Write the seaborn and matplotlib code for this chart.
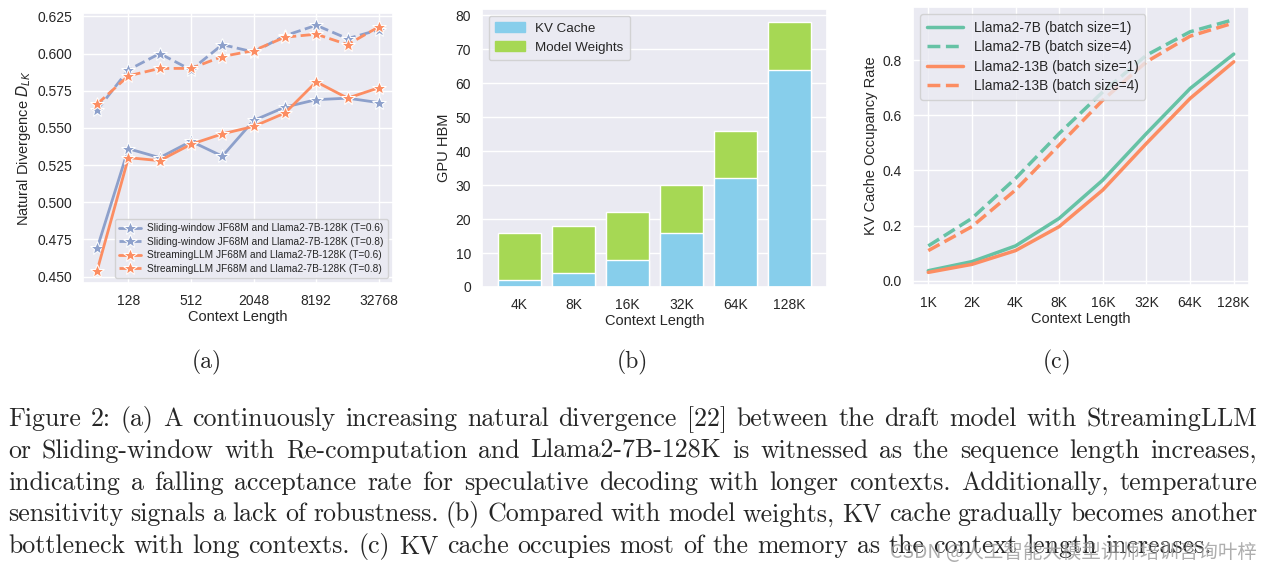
import matplotlib
matplotlib.use("Agg")
import matplotlib.pyplot as plt
import matplotlib.ticker as mticker
from matplotlib.patches import Patch
import pandas as pd
import seaborn as sns

# (a) natural divergence vs context length
ctx_a = [64, 128, 256, 512, 1024, 2048, 4096, 8192, 16384, 32768]
sliding_t06 = [0.469, 0.536, 0.530, 0.541, 0.531, 0.555, 0.564, 0.569, 0.570, 0.567]
sliding_t08 = [0.562, 0.589, 0.600, 0.589, 0.606, 0.601, 0.612, 0.619, 0.610, 0.616]
streaming_t06 = [0.454, 0.530, 0.528, 0.539, 0.546, 0.551, 0.560, 0.581, 0.570, 0.577]
streaming_t08 = [0.566, 0.585, 0.590, 0.590, 0.598, 0.602, 0.611, 0.613, 0.606, 0.618]

# (b) GPU HBM usage
ctx_b = ["4K", "8K", "16K", "32K", "64K", "128K"]
kv_cache = [2, 4, 8, 16, 32, 64]
model_weights = [14, 14, 14, 14, 14, 14]

# (c) KV cache occupancy
ctx_c = [1024, 2048, 4096, 8192, 16384, 32768, 65536, 131072]
ctx_c_labels = ["1K", "2K", "4K", "8K", "16K", "32K", "64K", "128K"]
occ_7b_bs1 = [0.036, 0.069, 0.126, 0.226, 0.365, 0.534, 0.697, 0.822]
occ_7b_bs4 = [0.126, 0.226, 0.371, 0.534, 0.685, 0.818, 0.903, 0.947]
occ_13b_bs1 = [0.030, 0.059, 0.109, 0.196, 0.329, 0.498, 0.661, 0.794]
occ_13b_bs4 = [0.109, 0.196, 0.329, 0.492, 0.655, 0.794, 0.887, 0.935]

caption_lines = [
    "Figure 2: (a) A continuously increasing natural divergence [22] between the draft model with StreamingLLM",
    "or Sliding-window with Re-computation and Llama2-7B-128K is witnessed as the sequence length increases,",
    "indicating a falling acceptance rate for speculative decoding with longer contexts. Additionally, temperature",
    "sensitivity signals a lack of robustness. (b) Compared with model weights, KV cache gradually becomes another",
    "bottleneck with long contexts. (c) KV cache occupies most of the memory as the context length increases.",
]

BLUE = "#8da0cb"
ORANGE = "#fc8d62"
GREEN = "#66c2a5"
SKY = "#87ceeb"
LIME = "#a6d854"

sns.set_theme(style="darkgrid")
plt.rcParams["font.family"] = ["Liberation Sans", "DejaVu Sans"]

W, H, DPI = 1271, 575, 100
fig = plt.figure(figsize=(W / DPI, H / DPI), dpi=DPI)


def px_axes(left, top, right, bottom):
    return fig.add_axes([left / W, 1 - bottom / H, (right - left) / W, (bottom - top) / H])


# ---- panel (a)
ax1 = px_axes(83, 13, 393, 283)
series_a = [
    (sliding_t06, BLUE, "-", "Sliding-window JF68M and Llama2-7B-128K (T=0.6)"),
    (sliding_t08, BLUE, "--", "Sliding-window JF68M and Llama2-7B-128K (T=0.8)"),
    (streaming_t06, ORANGE, "-", "StreamingLLM JF68M and Llama2-7B-128K (T=0.6)"),
    (streaming_t08, ORANGE, "--", "StreamingLLM JF68M and Llama2-7B-128K (T=0.8)"),
]
for vals, col, ls, lab in series_a:
    sns.lineplot(x=ctx_a, y=vals, ax=ax1, color=col, linestyle=ls, lw=2,
                 marker="*", markersize=10, label=lab)
ax1.set_xscale("log", base=2)
ax1.set_xticks([128, 512, 2048, 8192, 32768])
ax1.set_xticklabels(["128", "512", "2048", "8192", "32768"])
ax1.xaxis.set_minor_locator(mticker.NullLocator())
ax1.set_yticks([0.450, 0.475, 0.500, 0.525, 0.550, 0.575, 0.600, 0.625])
ax1.yaxis.set_major_formatter(mticker.FormatStrFormatter("%.3f"))
ax1.tick_params(labelsize=10, pad=2)
ax1.set_xlabel("Context Length", fontsize=10.5, labelpad=1)
ax1.set_ylabel("Natural Divergence $D_{LK}$", fontsize=10.5, labelpad=3)
ax1.legend(loc="lower right", fontsize=7.3, handlelength=2.2, borderpad=0.4,
           labelspacing=0.35, handletextpad=0.6)

# ---- panel (b)
ax2 = px_axes(482, 9, 827, 287)
df_b = pd.DataFrame({"ctx": ctx_b, "kv": kv_cache, "w": model_weights})
df_b["total"] = df_b["kv"] + df_b["w"]
sns.barplot(data=df_b, x="ctx", y="total", color=LIME, saturation=1, width=0.8,
            edgecolor="white", linewidth=1, ax=ax2)
sns.barplot(data=df_b, x="ctx", y="kv", color=SKY, saturation=1, width=0.8,
            edgecolor="white", linewidth=1, ax=ax2)
ax2.set_xlim(-0.69, 5.69)
ax2.set_ylim(0, 81.9)
ax2.set_yticks(range(0, 81, 10))
ax2.tick_params(labelsize=10, pad=2)
ax2.set_xlabel("Context Length", fontsize=10.5, labelpad=1)
ax2.set_ylabel("GPU HBM", fontsize=10.5, labelpad=3)
ax2.legend(handles=[Patch(color=SKY, label="KV Cache"), Patch(color=LIME, label="Model Weights")],
           loc="upper left", fontsize=9.6, handlelength=2.2, borderpad=0.5)

# ---- panel (c)
ax3 = px_axes(913, 7, 1249, 285)
series_c = [
    (occ_7b_bs1, GREEN, "-", "Llama2-7B (batch size=1)"),
    (occ_7b_bs4, GREEN, "--", "Llama2-7B (batch size=4)"),
    (occ_13b_bs1, ORANGE, "-", "Llama2-13B (batch size=1)"),
    (occ_13b_bs4, ORANGE, "--", "Llama2-13B (batch size=4)"),
]
for vals, col, ls, lab in series_c:
    sns.lineplot(x=ctx_c, y=vals, ax=ax3, color=col, linestyle=ls, lw=2.5, label=lab)
ax3.set_xscale("log", base=2)
ax3.set_xticks(ctx_c)
ax3.set_xticklabels(ctx_c_labels)
ax3.xaxis.set_minor_locator(mticker.NullLocator())
ax3.set_yticks([0.0, 0.2, 0.4, 0.6, 0.8])
ax3.yaxis.set_major_formatter(mticker.FormatStrFormatter("%.1f"))
ax3.tick_params(labelsize=10, pad=2)
ax3.set_xlabel("Context Length", fontsize=10.5, labelpad=1)
ax3.set_ylabel("KV Cache Occupancy Rate", fontsize=10.5, labelpad=3)
ax3.legend(loc="upper left", fontsize=9.9, handlelength=2.6, borderpad=0.5,
           labelspacing=0.4)

# ---- sub-labels and caption
for lab, xc in [("(a)", 207), ("(b)", 632), ("(c)", 1057)]:
    fig.text(xc / W, 1 - 362 / H, lab, family="cmr10", fontsize=17,
             ha="center", va="center")

renderer = fig.canvas.get_renderer()
cap_size = 18.6
space = cap_size * DPI / 72 * 0.333
x_left, x_right = 8, 1257
for i, line in enumerate(caption_lines):
    y = 1 - (426 + i * 31.8) / H
    words = line.split(" ")
    arts = [fig.text(0, y, w, family="cmr10", fontsize=cap_size, va="baseline") for w in words]
    widths = [a.get_window_extent(renderer).width for a in arts]
    if i < len(caption_lines) - 1:
        gap = max((x_right - x_left - sum(widths)) / (len(words) - 1), space * 0.6)
    else:
        gap = space
    x = x_left
    for a, wd in zip(arts, widths):
        a.set_x(x / W)
        x += wd + gap

fig.text(1257 / W, 1 - 553 / H, "CSDN @人工智能大模型讲师培训咨询叶梓",
         family=["Noto Sans CJK SC", "DejaVu Sans"], fontsize=14, color="#9a9a9a",
         alpha=0.8, ha="right", va="center")

fig.savefig("out.png", dpi=DPI)
